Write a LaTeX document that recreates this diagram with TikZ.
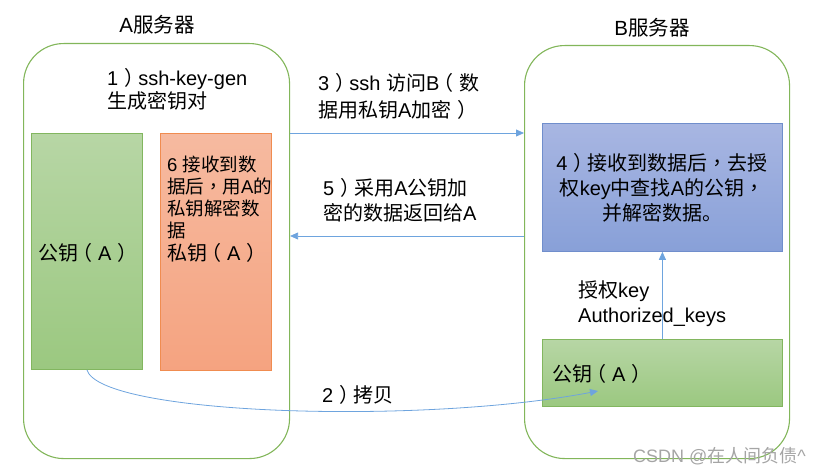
\documentclass[tikz,border=0pt]{standalone}
\usepackage{fontspec}
\setmainfont{Liberation Sans}
\newfontfamily\zhfont{Noto Sans CJK SC}
\newfontfamily\zhpfont{Noto Sans CJK TC}
\newcommand\zh[1]{{\zhfont #1}}
\newcommand\LP{{\zhfont\hspace{-0.3em}（\hspace{0.3em}}}
\newcommand\RP{{\zhfont\hspace{0.3em}）\hspace{-0.3em}}}
\newcommand\CM{{\zhpfont ，}}
\usetikzlibrary{arrows.meta}
\definecolor{frameG}{RGB}{130,182,90}
\definecolor{gTop}{RGB}{183,214,165}
\definecolor{gBot}{RGB}{155,200,128}
\definecolor{gLine}{RGB}{130,182,95}
\definecolor{oTop}{RGB}{246,186,160}
\definecolor{oBot}{RGB}{245,163,128}
\definecolor{oLine}{RGB}{240,140,80}
\definecolor{bTop}{RGB}{168,182,226}
\definecolor{bBot}{RGB}{136,160,216}
\definecolor{bLine}{RGB}{112,142,204}
\definecolor{arrBlue}{RGB}{110,164,222}
\definecolor{wmGray}{RGB}{165,165,165}
\tikzset{
  server/.style={draw=frameG, line width=1.1pt, rounded corners=40pt, anchor=north west, inner sep=0pt},
  greenbox/.style={draw=gLine, line width=0.8pt, top color=gTop, bottom color=gBot, anchor=north west, inner sep=0pt},
  orangebox/.style={draw=oLine, line width=0.8pt, top color=oTop, bottom color=oBot, anchor=north west, inner sep=0pt},
  bluebox/.style={draw=bLine, line width=0.8pt, top color=bTop, bottom color=bBot, anchor=north west, inner sep=0pt},
  txt/.style={inner sep=0pt, align=left, anchor=west, text=black},
  arr/.style={draw=arrBlue, line width=0.8pt, -{Triangle[width=7pt,length=8pt]}},
}
\begin{document}
\begin{tikzpicture}[x=1pt,y=-1pt]
\useasboundingbox (0,0) rectangle (830,476);
% server containers
\node[server, minimum width=266pt, minimum height=415pt] (A) at (23,43) {};
\node[server, minimum width=265pt, minimum height=413pt] (B) at (524,45) {};
% titles
\node[txt, anchor=center, font=\fontsize{20.5}{24}\selectfont] (tA) at (157,25) {A\zh{服务器}};
\node[txt, anchor=center, font=\fontsize{20.5}{24}\selectfont] (tB) at (652,28) {B\zh{服务器}};
% key boxes in A
\node[greenbox, minimum width=111pt, minimum height=236pt] (ga) at (31,133) {};
\node[orangebox, minimum width=111pt, minimum height=237pt] (oa) at (160,133) {};
% blue box in B
\node[bluebox, minimum width=240pt, minimum height=128pt] (bb) at (542,123) {};
% green box in B
\node[greenbox, minimum width=240pt, minimum height=67pt] (gb) at (542,339) {};
% texts
\node[txt, font=\fontsize{20}{22.5}\selectfont] (t1) at (107,89.5) {1\RP ssh-key-gen\\\zh{生成密钥对}};
\node[txt, font=\fontsize{18.5}{21.7}\selectfont] (t6) at (167,197.5) {6 \zh{接收到数}\\\zh{据后}\CM\zh{用}A\zh{的}\\\zh{私钥解密数}\\\zh{据}};
\node[txt, font=\fontsize{20}{24}\selectfont] (pa) at (167,253) {\zh{私钥}\LP A\RP};
\node[txt, font=\fontsize{20}{24}\selectfont] (ka) at (38,253) {\zh{公钥}\LP A\RP};
\node[txt, font=\fontsize{20}{26.7}\selectfont] (t3) at (318,96.5) {3\RP ssh \zh{访问}B\LP\zh{数}\\\zh{据用私钥}A\zh{加密}\RP};
\node[txt, font=\fontsize{20}{25}\selectfont] (t5) at (323,200.5) {5\RP\zh{采用}A\zh{公钥加}\\\zh{密的数据返回给}A};
\node[txt, anchor=center, align=center, font=\fontsize{20}{25}\selectfont] (t4) at (662,188) {4\RP\zh{接收到数据后}\CM\zh{去授}\\\zh{权}key\zh{中查找}A\zh{的公钥}\CM\\\zh{并解密数据。}};
\node[txt, font=\fontsize{20}{25}\selectfont] (tk) at (578,303.5) {\zh{授权}key\\Authorized\_keys};
\node[txt, font=\fontsize{20}{24}\selectfont] (kb) at (552,374) {\zh{公钥}\LP A\RP};
\node[txt, font=\fontsize{20}{24}\selectfont] (t2) at (322,395) {2\RP\zh{拷贝}};
% watermark
\node[txt, text=wmGray, font=\fontsize{18}{20}\selectfont] (wm) at (633,456) {CSDN @\zh{在人间负债}\textasciicircum};
% connectors
\coordinate (y3) at (0,133);
\coordinate (y5) at (0,236);
\coordinate (tip2) at (598,391);
\draw[arr] (A.east |- y3) -- (B.west |- y3);
\draw[arr] (B.west |- y5) -- (A.east |- y5);
\draw[arr] (gb.north) -- (bb.south);
\draw[arr] (ga.south) .. controls (100,415) and (420,425) .. (tip2);
\end{tikzpicture}
\end{document}
